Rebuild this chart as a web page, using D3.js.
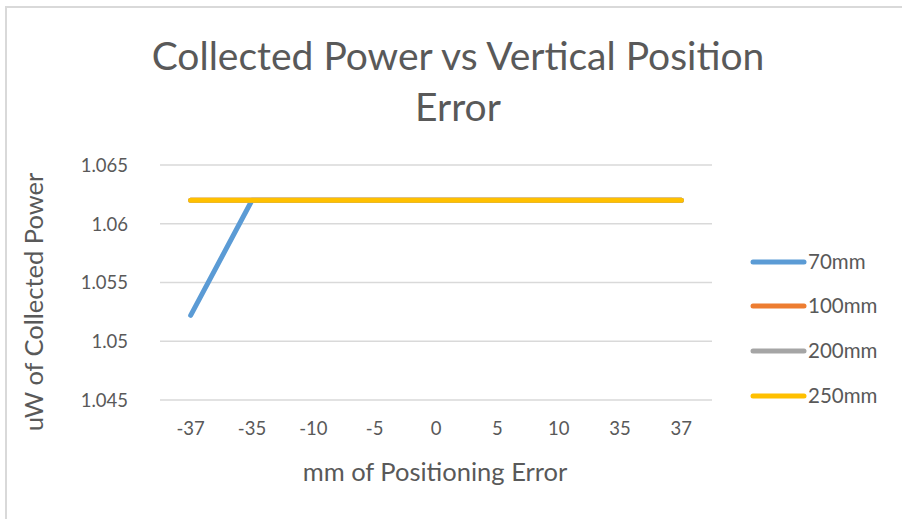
<!DOCTYPE html>
<html><head><meta charset="utf-8">
<script src="https://cdn.jsdelivr.net/npm/d3@7"></script>
<style>body{margin:0;background:#fff}svg{display:block}text{font-family:Lato,"Open Sans",sans-serif;fill:#595959}</style>
</head><body>
<script>
const categories = ["-37","-35","-10","-5","0","5","10","35","37"];
const seriesNames = ["70mm","100mm","200mm","250mm"];
const v70  = [1.0522,1.062,1.062,1.062,1.062,1.062,1.062,1.062,1.062];
const v100 = [1.062,1.062,1.062,1.062,1.062,1.062,1.062,1.062,1.062];
const v200 = [1.062,1.062,1.062,1.062,1.062,1.062,1.062,1.062,1.062];
const v250 = [1.062,1.062,1.062,1.062,1.062,1.062,1.062,1.062,1.062];
const yTicks = [1.045,1.05,1.055,1.06,1.065];
const yTickLabels = ["1.045","1.05","1.055","1.06","1.065"];
const colors = ["#5B9BD5","#ED7D31","#A5A5A5","#FFC000"];
const series = [v70,v100,v200,v250];

const W=902,H=519;
const svg=d3.select("body").append("svg").attr("width",W).attr("height",H);
svg.append("rect").attr("x",6).attr("y",7).attr("width",W).attr("height",H).attr("fill","#fff").attr("stroke","#d9d9d9").attr("stroke-width",2);

const x=d3.scaleBand().domain(categories).range([160,712]);
const y=d3.scaleLinear().domain([1.045,1.065]).range([400,165]);

svg.append("g").selectAll("line").data(yTicks).join("line")
  .attr("x1",160).attr("x2",712).attr("y1",d=>y(d)).attr("y2",d=>y(d))
  .attr("stroke","#d9d9d9").attr("stroke-width",1.5);

const yAxis=d3.axisLeft(y).tickValues(yTicks).tickFormat((d,i)=>yTickLabels[i]).tickSize(0).tickPadding(0);
const gy=svg.append("g").attr("transform","translate(128,0)").call(yAxis);
gy.select(".domain").remove();
gy.selectAll("text").style("font-size","18.5px").attr("fill","#595959").attr("dy","0.35em");

const xAxis=d3.axisBottom(x).tickSize(0).tickPadding(0);
const gx=svg.append("g").attr("transform","translate(0,429)").call(xAxis);
gx.select(".domain").remove();
gx.selectAll("text").style("font-size","18.5px").attr("fill","#595959").attr("dy","0.35em");

const line=d3.line().x((d,i)=>x(categories[i])+x.bandwidth()/2).y(d=>y(d));
series.forEach((s,k)=>{
  svg.append("path").datum(s).attr("d",line).attr("fill","none")
    .attr("stroke",colors[k]).attr("stroke-width",5).attr("stroke-linecap","round").attr("stroke-linejoin","round");
});

svg.append("text").attr("x",458).attr("y",70).attr("text-anchor","middle").style("font-size","39px").text("Collected Power vs Vertical Position");
svg.append("text").attr("x",458).attr("y",121).attr("text-anchor","middle").style("font-size","39px").text("Error");

svg.append("text").attr("transform","translate(43,302) rotate(-90)").attr("text-anchor","middle").style("font-size","25.5px").text("uW of Collected Power");
svg.append("text").attr("x",435).attr("y",481).attr("text-anchor","middle").style("font-size","25.5px").text("mm of Positioning Error");

const lg=svg.append("g");
const ly=[262,306,351,396];
seriesNames.forEach((n,i)=>{
  lg.append("line").attr("x1",753).attr("x2",804).attr("y1",ly[i]).attr("y2",ly[i]).attr("stroke",colors[i]).attr("stroke-width",5).attr("stroke-linecap","round");
  lg.append("text").attr("x",808).attr("y",ly[i]).attr("dy","0.35em").style("font-size","20.5px").text(n);
});
</script>
</body></html>
